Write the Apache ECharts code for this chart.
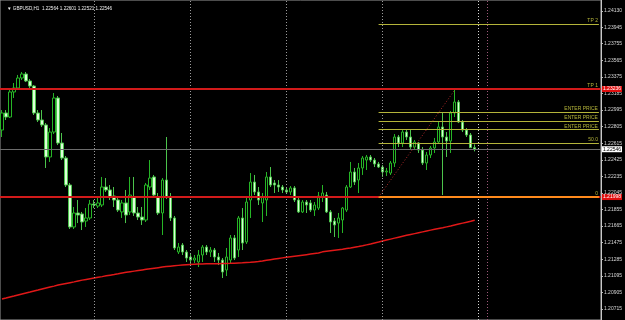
<!DOCTYPE html>
<html><head><meta charset="utf-8">
<script src="https://cdn.jsdelivr.net/npm/echarts@6/dist/echarts.min.js"></script>
<style>html,body{margin:0;padding:0;background:#000}#c{width:625px;height:320px}</style>
</head><body><div id="c"></div>
<script>
const chartTitle = '\u25BC GBPUSD,H1  1.22564 1.22601 1.22521 1.22546';
const barOpen = [1.22766,1.22961,1.22915,1.23202,1.23248,1.23362,1.23408,1.23328,1.23270,1.22961,
1.22881,1.22824,1.22457,1.22743,1.23133,1.22617,1.22445,1.22136,1.21655,1.21815,
1.21804,1.21723,1.21758,1.21918,1.21895,1.21907,1.22113,1.22079,1.22010,1.21964,
1.21827,1.21930,1.21827,1.21998,1.21815,1.21769,1.21735,1.22113,1.22228,1.21998,
1.21815,1.22193,1.21998,1.21758,1.21368,1.21448,1.21368,1.21311,1.21276,1.21254,
1.21334,1.21425,1.21368,1.21391,1.21311,1.21276,1.21162,1.21276,1.21529,1.21391,
1.21758,1.21483,1.21964,1.22170,1.22056,1.21930,1.21964,1.22228,1.22159,1.22136,
1.22113,1.22079,1.22056,1.22102,1.21964,1.21827,1.21941,1.21930,1.21849,1.21872,
1.21998,1.22021,1.21827,1.21723,1.21700,1.21735,1.21849,1.22113,1.22285,1.22193,
1.22331,1.22422,1.22457,1.22422,1.22377,1.22342,1.22285,1.22273,1.22388,1.22686,
1.22617,1.22743,1.22686,1.22571,1.22617,1.22537,1.22388,1.22480,1.22560,1.22629,
1.22801,1.22686,1.22640,1.22961,1.23087,1.22858,1.22766,1.22709,1.22564];
const barClose = [1.22961,1.22915,1.23202,1.23248,1.23362,1.23408,1.23328,1.23270,1.22961,1.22881,
1.22824,1.22457,1.22743,1.23133,1.22617,1.22445,1.22136,1.21655,1.21815,1.21792,
1.21712,1.21758,1.21918,1.21907,1.21930,1.22113,1.22079,1.21998,1.21964,1.21849,
1.21930,1.21792,1.22021,1.21815,1.21769,1.21735,1.22136,1.22216,1.22021,1.21815,
1.22193,1.21998,1.21758,1.21414,1.21425,1.21368,1.21299,1.21276,1.21299,1.21334,
1.21425,1.21368,1.21391,1.21311,1.21276,1.21139,1.21311,1.21529,1.21299,1.21758,
1.21471,1.21941,1.22170,1.22056,1.21964,1.21998,1.22228,1.22136,1.22136,1.22113,
1.22079,1.22056,1.22102,1.21964,1.21827,1.21941,1.21907,1.21849,1.21907,1.22010,
1.22044,1.21827,1.21712,1.21678,1.21758,1.21872,1.22113,1.22285,1.22170,1.22331,
1.22445,1.22457,1.22422,1.22377,1.22342,1.22285,1.22296,1.22388,1.22686,1.22617,
1.22743,1.22686,1.22571,1.22629,1.22537,1.22388,1.22480,1.22560,1.22629,1.22801,
1.22686,1.22640,1.22961,1.23087,1.22858,1.22766,1.22709,1.22564,1.22546];
const barLow = [1.22686,1.22881,1.22904,1.23133,1.23225,1.23339,1.23316,1.23248,1.22938,1.22858,
1.22801,1.22331,1.22400,1.22720,1.22594,1.22422,1.22113,1.21632,1.21632,1.21700,
1.21620,1.21655,1.21735,1.21872,1.21872,1.21884,1.22056,1.21964,1.21884,1.21827,
1.21758,1.21700,1.21792,1.21781,1.21735,1.21678,1.21712,1.22079,1.21987,1.21792,
1.21563,1.21976,1.21723,1.21391,1.21345,1.21334,1.21254,1.21219,1.21242,1.21196,
1.21254,1.21334,1.21311,1.21254,1.21219,1.21070,1.21093,1.21242,1.21276,1.21311,
1.21391,1.21460,1.21758,1.22021,1.21907,1.21712,1.21781,1.22113,1.22044,1.22056,
1.22044,1.22033,1.22021,1.21941,1.21815,1.21815,1.21815,1.21827,1.21781,1.21849,
1.21941,1.21815,1.21586,1.21540,1.21529,1.21586,1.21827,1.22102,1.22136,1.22044,
1.22251,1.22308,1.22400,1.22342,1.22331,1.22228,1.22239,1.22251,1.22342,1.22571,
1.22571,1.22652,1.22549,1.22537,1.22503,1.22365,1.22308,1.22445,1.22503,1.22617,
1.22021,1.22457,1.22503,1.22915,1.22846,1.22743,1.22686,1.22560,1.22521];
const barHigh = [1.22995,1.22995,1.23236,1.23305,1.23397,1.23431,1.23431,1.23351,1.23282,1.22995,
1.22995,1.22846,1.22789,1.23190,1.23156,1.22732,1.22468,1.22159,1.21884,1.21964,
1.21827,1.21872,1.21964,1.21964,1.21987,1.22228,1.22216,1.22136,1.22113,1.21998,
1.21964,1.22079,1.22228,1.22228,1.21884,1.21884,1.22159,1.22422,1.22251,1.22044,
1.22216,1.22686,1.22044,1.21781,1.21471,1.21471,1.21391,1.21357,1.21334,1.21391,
1.21448,1.21448,1.21425,1.21414,1.21357,1.21299,1.21414,1.21563,1.21563,1.21781,
1.21872,1.21987,1.22273,1.22251,1.22113,1.22044,1.22285,1.22342,1.22193,1.22193,
1.22136,1.22113,1.22124,1.22124,1.21987,1.21964,1.21964,1.21964,1.21941,1.22056,
1.22136,1.22056,1.21849,1.21758,1.21815,1.21884,1.22136,1.22400,1.22331,1.22388,
1.22468,1.22480,1.22480,1.22445,1.22400,1.22365,1.22331,1.22411,1.22720,1.22709,
1.22766,1.22766,1.22766,1.22652,1.22629,1.22571,1.22514,1.22583,1.22675,1.22858,
1.22972,1.22743,1.22984,1.23225,1.23110,1.22881,1.22789,1.22732,1.22601];
const maValues = [1.20830,1.20841,1.20853,1.20864,1.20876,1.20887,1.20898,1.20909,1.20921,1.20932,
1.20944,1.20955,1.20966,1.20977,1.20989,1.20999,1.21008,1.21017,1.21026,1.21036,
1.21046,1.21054,1.21062,1.21070,1.21078,1.21086,1.21095,1.21103,1.21110,1.21118,
1.21127,1.21135,1.21142,1.21149,1.21156,1.21163,1.21170,1.21177,1.21183,1.21189,
1.21195,1.21201,1.21206,1.21211,1.21215,1.21219,1.21223,1.21226,1.21229,1.21231,
1.21232,1.21233,1.21234,1.21235,1.21235,1.21236,1.21237,1.21238,1.21240,1.21242,
1.21244,1.21247,1.21250,1.21255,1.21260,1.21266,1.21273,1.21280,1.21287,1.21294,
1.21301,1.21308,1.21314,1.21320,1.21326,1.21332,1.21338,1.21344,1.21350,1.21356,
1.21370,1.21377,1.21383,1.21389,1.21395,1.21401,1.21408,1.21415,1.21423,1.21431,
1.21440,1.21450,1.21460,1.21471,1.21482,1.21494,1.21505,1.21516,1.21527,1.21538,
1.21549,1.21559,1.21569,1.21579,1.21589,1.21599,1.21609,1.21619,1.21628,1.21637,
1.21646,1.21656,1.21666,1.21677,1.21688,1.21699,1.21710,1.21721,1.21733];
const priceTicks = [1.24130,1.23945,1.23755,1.23565,1.23375,1.23185,1.22995,1.22805,1.22615,1.22425,
1.22235,1.22045,1.21855,1.21665,1.21475,1.21285,1.21095,1.20905,1.20715];
const currentPrice = 1.22546;
const horizontalLines = [1.23236, 1.21998];
const fiboLevels = [1.22617, 1.22770, 1.22870, 1.22972, 1.23236, 1.23981];
const fiboNames = ['50.0', 'ENTER PRICE', 'ENTER PRICE', 'ENTER PRICE', 'TP 1', 'TP 2'];
const fiboZero = 1.21998;
const fiboStartBar = 94, fiboEndBar = 113, fiboTop = 1.23225;
const daySeparatorBars = [23, 47, 71, 95];
const verticalLineBars = [119, 121];
const slotCount = 150;

const categories = [];
for (let i = 0; i < slotCount; i++) categories.push(String(i));
const lastSlot = categories[slotCount - 1];
const FONT = 'Liberation Sans';
const olive = '#b4b43a';

const ml = [];
daySeparatorBars.forEach(b => {
  ml.push({xAxis: categories[b], lineStyle: {color: '#9a9a9a', width: 1, type: [1, 2]}, label: {show: false}});
});
ml.push({xAxis: categories[verticalLineBars[0]], lineStyle: {color: '#d8d8d8', width: 1, type: [1, 2]}, label: {show: false}});
ml.push({xAxis: categories[verticalLineBars[1]], lineStyle: {color: '#a05a7a', width: 1, type: [1, 2]}, label: {show: false}});
ml.push({yAxis: currentPrice, lineStyle: {color: '#6c6c6c', width: 1, type: 'solid'},
  label: {show: true, position: 'end', formatter: currentPrice.toFixed(5), color: '#000', backgroundColor: '#fff',
    fontSize: 5, fontFamily: FONT, padding: [1, 1, 0, 1], distance: 1}});
fiboLevels.forEach((v, k) => {
  ml.push([{coord: [categories[fiboStartBar], v], lineStyle: {color: olive, width: 1, type: 'solid'},
    label: {show: true, position: 'insideEndTop', formatter: fiboNames[k], color: olive, fontSize: 5, fontFamily: FONT, distance: 1}},
    {coord: [lastSlot, v]}]);
});
horizontalLines.forEach(v => {
  ml.push({yAxis: v, lineStyle: {color: '#d21a1a', width: 2, type: 'solid'},
    label: {show: true, position: 'end', formatter: v.toFixed(5), color: '#fff', backgroundColor: '#e01010',
      fontSize: 5, fontFamily: FONT, padding: [1, 1, 0, 1], distance: 1}});
});
ml.push([{coord: [categories[fiboStartBar], fiboZero], lineStyle: {color: '#ff8a1c', width: 2, type: 'solid'},
  label: {show: true, position: 'insideEndTop', formatter: '0', color: olive, fontSize: 5, fontFamily: FONT, distance: 1}},
  {coord: [lastSlot, fiboZero]}]);
ml.push([{coord: [categories[fiboStartBar], fiboZero], lineStyle: {color: '#b02a2a', width: 1, type: [1, 2]}, label: {show: false}},
  {coord: [categories[fiboEndBar], fiboTop]}]);

const chart = echarts.init(document.getElementById('c'), null, {renderer: 'canvas'});
chart.setOption({
  animation: false,
  backgroundColor: '#000',
  title: {text: chartTitle, left: 2, top: 1, textStyle: {color: '#f0f0f0', fontSize: 4.6, fontWeight: 'normal', fontFamily: FONT}},
  grid: {left: -2.5, right: 23, top: 0, bottom: 0, show: true, borderColor: '#9a9a9a', borderWidth: 1, backgroundColor: '#000'},
  xAxis: {type: 'category', data: categories, boundaryGap: true, axisLine: {show: false}, axisTick: {show: false}, axisLabel: {show: false}, splitLine: {show: false}},
  yAxis: {type: 'value', position: 'right', min: 1.20589, max: 1.24256, scale: true,
    axisLine: {show: true, lineStyle: {color: '#c8c8c8', width: 1}},
    axisTick: {show: true, length: 2, customValues: priceTicks, lineStyle: {color: '#c8c8c8'}},
    axisLabel: {show: true, customValues: priceTicks, formatter: v => v.toFixed(5), color: '#d8d8d8', fontSize: 5, fontFamily: FONT, margin: 3},
    splitLine: {show: false}},
  series: [
    {type: 'candlestick', name: 'GBPUSD', barWidth: 3,
      data: barOpen.map((o, i) => [o, barClose[i], barLow[i], barHigh[i]]),
      itemStyle: {color: '#000', color0: '#dcffd8', borderColor: '#26b526', borderColor0: '#4cc44c', borderWidth: 1},
      markLine: {silent: true, precision: 5, symbol: ['none', 'none'], animation: false, data: ml}},
    {type: 'line', name: 'MA', data: maValues, symbol: 'none', lineStyle: {color: '#e01818', width: 1.5}, z: 3}
  ]
});
</script></body></html>
